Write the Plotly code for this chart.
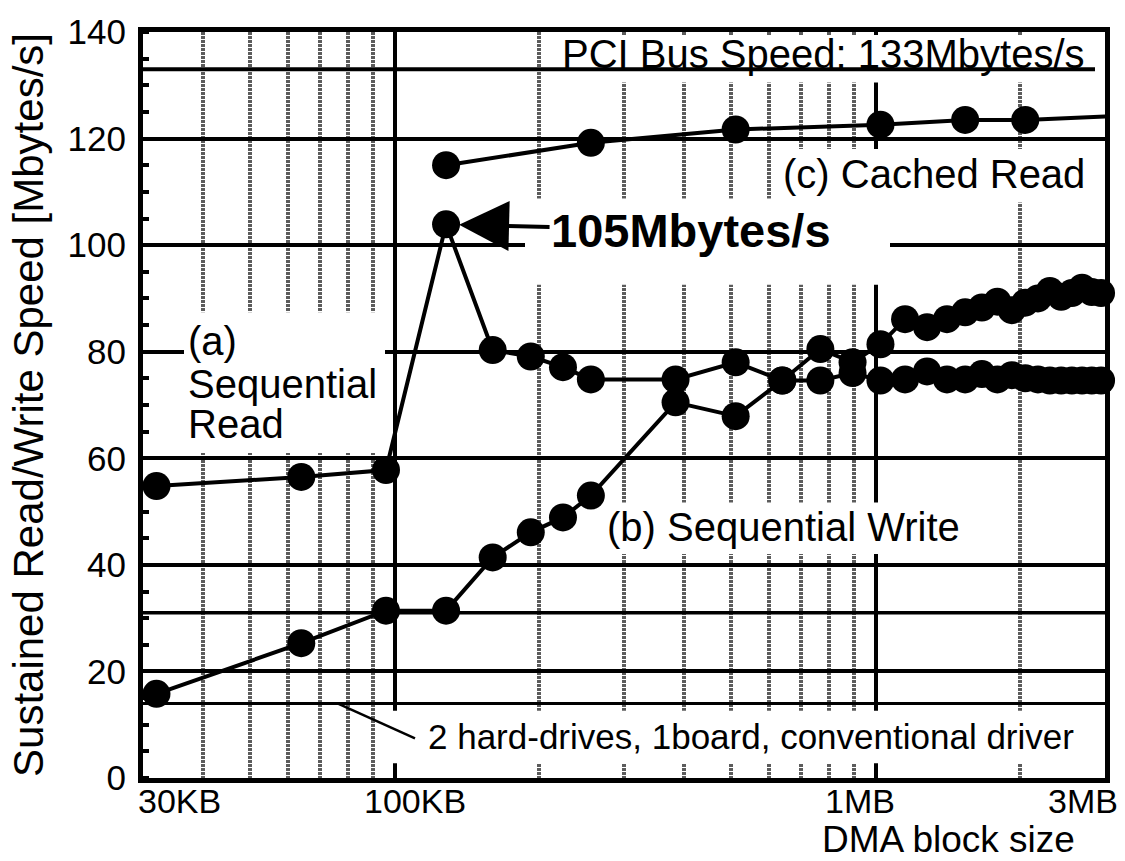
import math
import plotly.graph_objects as go

# ---------------- data ----------------
block_kb = [32, 64, 96, 128, 160, 192, 224, 256, 384, 512, 640, 768, 896,
            1024, 1152, 1280, 1408, 1536, 1664, 1792, 1920, 2048, 2176,
            2304, 2432, 2560, 2688, 2816, 2944]
seq_read = [54.8, 56.5, 57.8, 103.9, 80.3, 79.1, 77.1, 74.8, 74.8, 78.0, 74.6, 74.6, 76.0,
            74.6, 74.8, 76.3, 74.8, 74.8, 75.8, 74.8, 75.6, 75.0, 74.8,
            74.6, 74.6, 74.6, 74.6, 74.6, 74.6]
seq_write = [15.8, 25.3, 31.4, 31.4, 41.4, 46.1, 48.9, 53.0, 70.5, 67.9, 74.6, 80.5, 78.0,
             81.4, 86.1, 84.6, 86.1, 87.4, 88.3, 89.4, 87.8, 89.2, 90.0,
             91.4, 90.3, 91.0, 92.0, 91.2, 91.0]
cached_kb = [128, 256, 512, 1024, 1536, 2048, 3072]
cached_read = [115.0, 119.2, 121.7, 122.6, 123.5, 123.5, 124.2]

pci_speed = 133
extra_level = 31
conventional_level = 14
peak_kb, peak_val = 128, 103.9

x_range_kb = [30, 3000]
x_major = [100, 1000]
x_minor = [40, 50, 60, 70, 80, 90, 200, 300, 400, 500, 600, 700, 800, 900, 2000]
x_tick_vals = [30, 100, 1000, 3000]
x_tick_text = ["30KB", "100KB", "1MB", "3MB"]
y_ticks = [0, 20, 40, 60, 80, 100, 120, 140]

FONT = "Liberation Sans, Arial, Helvetica, sans-serif"

fig = go.Figure()

line_style = dict(color="black", width=4)
fig.add_trace(go.Scatter(x=block_kb, y=seq_read, mode="lines+markers",
                         line=line_style, marker=dict(size=28, color="black"),
                         cliponaxis=False, hoverinfo="skip"))
fig.add_trace(go.Scatter(x=block_kb, y=seq_write, mode="lines+markers",
                         line=line_style, marker=dict(size=28, color="black"),
                         cliponaxis=False, hoverinfo="skip"))
fig.add_trace(go.Scatter(x=cached_kb, y=cached_read, mode="lines+markers",
                         line=line_style, marker=dict(size=28, color="black"),
                         cliponaxis=True, hoverinfo="skip"))

# ---------------- layout helpers (pixel -> paper) ----------------
PL, PR, PT, PB = 143, 1105, 25, 778


def px(x):
    return (x - PL) / (PR - PL)


def py(y):
    return (PB - y) / (PB - PT)


def mask(x0, x1, y0, y1):
    return dict(type="rect", xref="paper", yref="paper",
                x0=px(x0), x1=px(x1), y0=py(y1), y1=py(y0),
                fillcolor="white", line=dict(width=0), layer="above")


shapes = [
    mask(550, 1100, 28, 76),     # PCI label
    mask(778, 1098, 143, 197),   # (c) Cached Read
    mask(525, 890, 193, 280),    # 105Mbytes/s
    mask(184, 385, 308, 450),    # (a) Sequential Read
    mask(607, 985, 500, 552),    # (b) Sequential Write
    mask(390, 1100, 710, 763),   # conventional driver label
]
for lvl, x1, w in [(pci_speed, px(1095), 4), (extra_level, 1.0, 3.5), (conventional_level, 1.0, 3)]:
    shapes.append(dict(type="line", xref="paper", yref="y", x0=0, x1=x1, y0=lvl, y1=lvl,
                       line=dict(color="black", width=w), layer="above"))
# leader line for the conventional-driver label
shapes.append(dict(type="line", xref="paper", yref="paper", x0=px(338), y0=py(703),
                   x1=px(415), y1=py(738), line=dict(color="black", width=2.5), layer="above"))

annotations = []
xshift = {"30KB": 36, "100KB": 20, "1MB": -16, "3MB": -22}
for v, t in zip(x_tick_vals, x_tick_text):
    annotations.append(dict(x=math.log10(v), xref="x", y=py(801), yref="paper",
                            text=t, showarrow=False, xanchor="center", yanchor="middle",
                            xshift=xshift[t], font=dict(size=34)))
annotations.append(dict(x=px(948), xref="paper", y=py(840), yref="paper",
                        text="DMA block size", showarrow=False, xanchor="center",
                        yanchor="middle", font=dict(size=37)))


def label(text, x, y, size=40):
    annotations.append(dict(x=px(x), y=py(y), xref="paper", yref="paper", text=text,
                            showarrow=False, xanchor="left", yanchor="middle",
                            font=dict(size=size)))


label("PCI Bus Speed: 133Mbytes/s", 560, 47)
label("(c) Cached Read", 781, 168)
label("(b) Sequential Write", 605, 525)
label("(a)", 186, 337)
label("Sequential", 186, 380)
label("Read", 186, 421)
label("2 hard-drives, 1board, conventional driver", 426, 736, size=35)

annotations.append(dict(x=math.log10(peak_kb), y=peak_val, xref="x", yref="y",
                        text="<b>105Mbytes/s</b>", font=dict(size=47),
                        showarrow=True, arrowhead=2, arrowsize=2.5, arrowwidth=4,
                        arrowcolor="black", ax=245, ay=6, standoff=13))

fig.update_layout(
    width=1125, height=861,
    margin=dict(l=PL, r=1125 - PR, t=PT, b=861 - PB),
    plot_bgcolor="white", paper_bgcolor="white",
    showlegend=False,
    font=dict(family=FONT, color="black"),
    shapes=shapes, annotations=annotations,
)
fig.update_xaxes(
    type="log", range=[math.log10(x_range_kb[0]), math.log10(x_range_kb[1])],
    tickmode="array", tickvals=x_major, showticklabels=False, ticks="",
    showgrid=True, gridcolor="black", gridwidth=4,
    minor=dict(tickmode="array", tickvals=x_minor, showgrid=True,
               gridcolor="#5c5c5c", griddash="3px,1px", gridwidth=4, ticks=""),
    showline=True, linecolor="black", linewidth=5, mirror=True, zeroline=False,
)
fig.update_yaxes(
    range=[0, 140], tickmode="array", tickvals=y_ticks, ticks="",
    showgrid=True, gridcolor="black", gridwidth=3.5,
    minor=dict(dtick=5, tick0=0, ticks="inside", ticklen=6, tickwidth=4,
               tickcolor="black", showgrid=False),
    showline=True, linecolor="black", linewidth=5, mirror=True, zeroline=False,
    tickfont=dict(size=35), ticklabelstandoff=5,
    title=dict(text="Sustained Read/Write Speed [Mbytes/s]", font=dict(size=42), standoff=12),
)

fig.write_html("out.html")
